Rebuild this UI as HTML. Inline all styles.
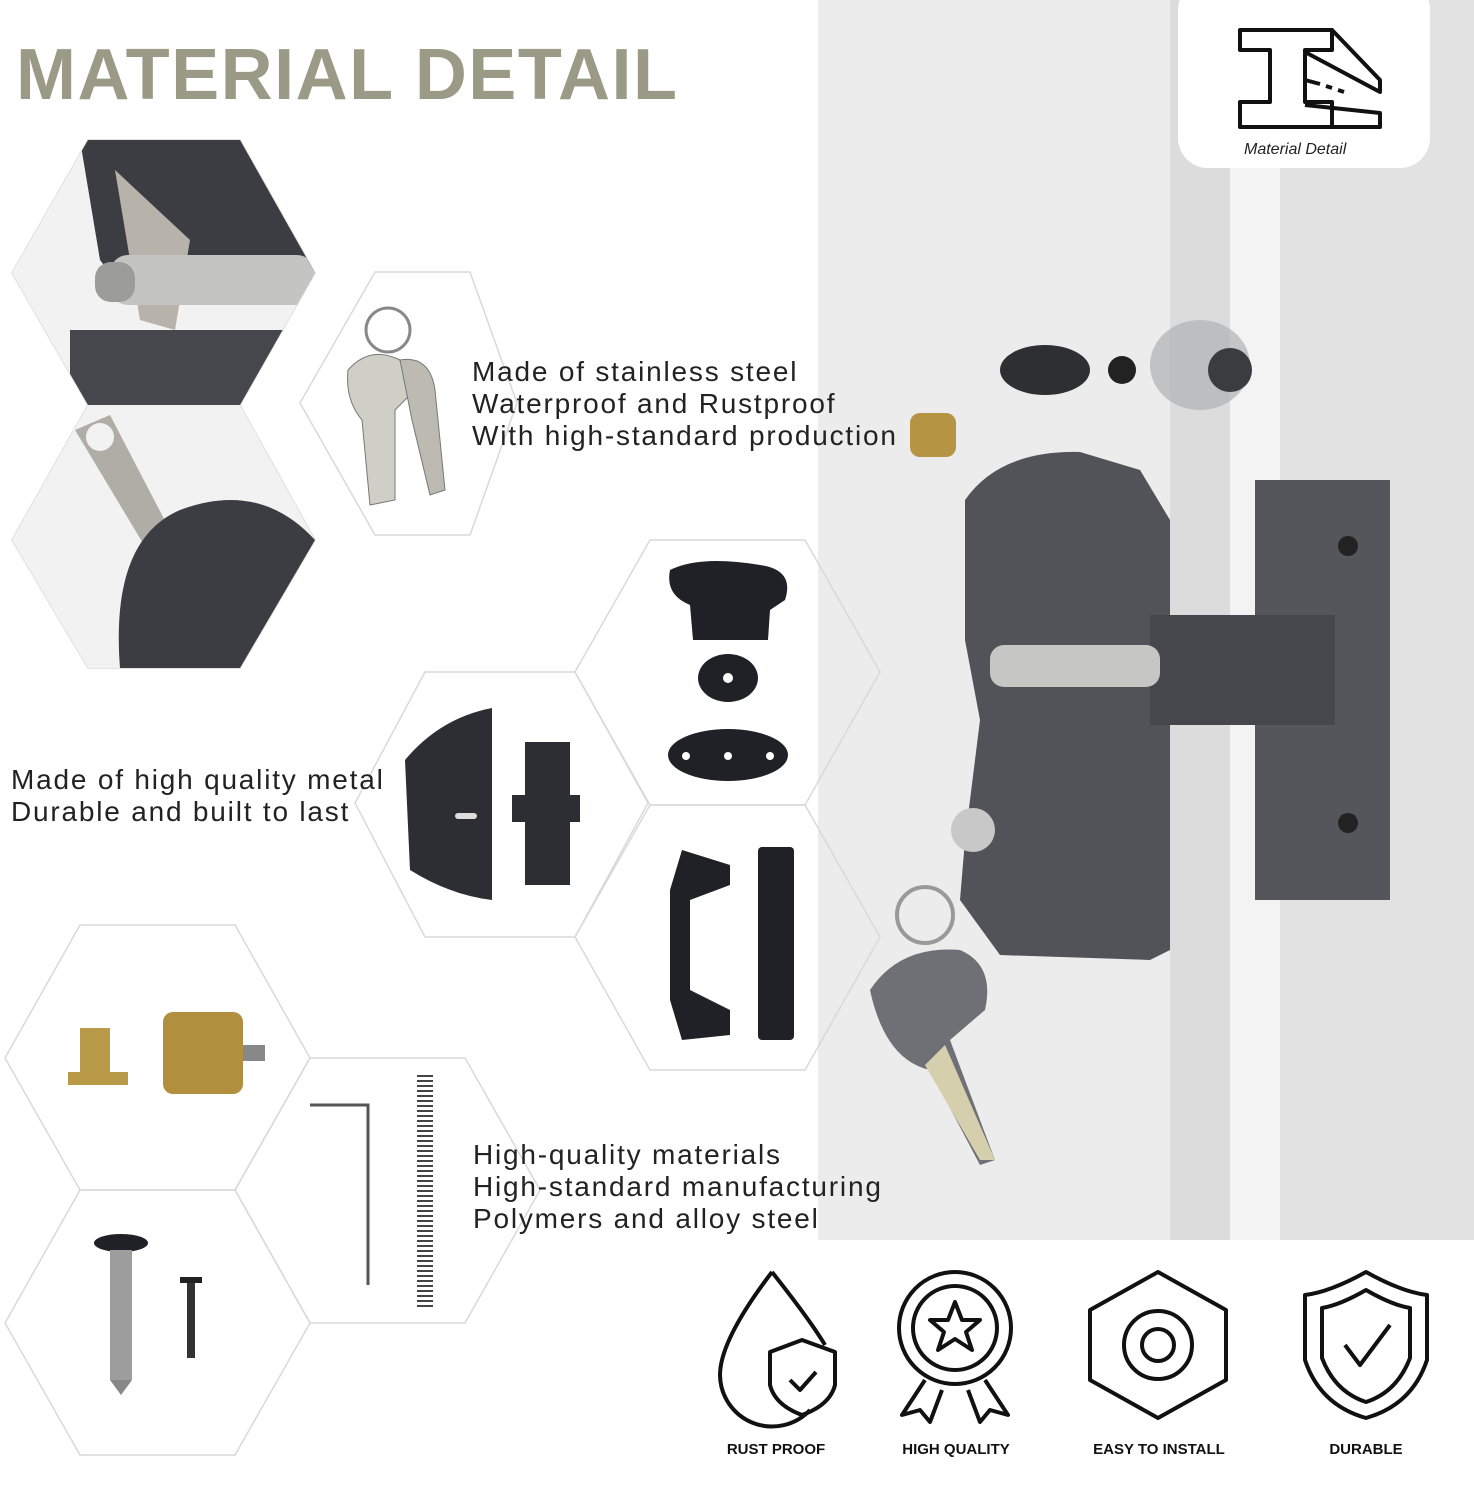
<!DOCTYPE html>
<html><head><meta charset="utf-8"><style>
html,body{margin:0;padding:0}
body{width:1474px;height:1500px;position:relative;background:#fff;overflow:hidden;font-family:"Liberation Sans",sans-serif}
svg{position:absolute;left:0;top:0}
</style></head><body>
<svg width="1474" height="1500" viewBox="0 0 1474 1500" xmlns="http://www.w3.org/2000/svg">
<defs>
<clipPath id="c1"><polygon points="12,273 88,140 240,140 315,273 240,405 88,405"/></clipPath>
<clipPath id="c3"><polygon points="12,540 88,405 240,405 315,540 240,668 88,668"/></clipPath>
</defs>
<rect x="818" y="0" width="656" height="1500" fill="#ececec"/>
<rect x="1170" y="0" width="60" height="1500" fill="#dcdcdc"/>
<rect x="1230" y="0" width="50" height="1500" fill="#f3f3f3"/>
<rect x="1280" y="0" width="194" height="1500" fill="#e2e2e2"/>
<rect x="700" y="1240" width="774" height="260" fill="#fff"/>
<rect x="1178" y="-20" width="252" height="188" rx="30" fill="#fff"/>
<g fill="none" stroke="#111" stroke-width="4" stroke-linejoin="round">
<path d="M1240,30 H1332 V50 H1305 V102 H1332 V127 H1240 V102 H1270 V50 H1240 Z"/>
<path d="M1332,30 L1380,80 V92 L1305,52"/>
<path d="M1332,112 V127 H1380 V113 L1305,105"/>
<path d="M1305,80 L1320,84 M1326,86 L1332,88 M1338,90 L1344,92"/>
</g>
<text x="1244" y="154" font-family="Liberation Sans,sans-serif" font-style="italic" font-size="16" fill="#222">Material Detail</text>
<text x="16" y="99" font-size="72" font-weight="bold" fill="#9a9a86" letter-spacing="1.5">MATERIAL DETAIL</text>
<g fill="none" stroke="#d9d9d9" stroke-width="1.5">
<polygon points="300,403 375,272 470,272 517,403 470,535 375,535"/>
<polygon points="355,803 425,672 575,672 648,803 575,937 425,937"/>
<polygon points="575,672 650,540 805,540 880,672 805,805 650,805"/>
<polygon points="575,937 650,805 805,805 880,937 805,1070 650,1070"/>
<polygon points="5,1058 80,925 235,925 310,1058 235,1190 80,1190"/>
<polygon points="235,1190 310,1058 465,1058 540,1190 465,1323 310,1323"/>
<polygon points="5,1323 80,1190 235,1190 310,1323 235,1455 80,1455"/>
<polygon points="12,273 88,140 240,140 315,273 240,405 88,405"/>
<polygon points="12,540 88,405 240,405 315,540 240,668 88,668"/>
</g>
<g clip-path="url(#c1)">
<rect x="0" y="130" width="320" height="280" fill="#f2f2f2"/>
<path d="M80,140 H250 L315,273 L260,300 H130 L100,260 Z" fill="#3b3d42"/>
<path d="M70,330 H320 V405 H70 Z" fill="#45474c"/>
<path d="M115,170 L190,240 L175,330 L140,320 Z" fill="#b7b3ab"/>
<rect x="110" y="255" width="205" height="50" rx="18" fill="#c4c4c2"/>
<rect x="95" y="262" width="40" height="40" rx="16" fill="#9c9c9a"/>
</g>
<g clip-path="url(#c3)">
<rect x="0" y="400" width="320" height="270" fill="#f2f2f2"/>
<path d="M75,430 L110,415 L175,540 L150,555 Z" fill="#b0aca6"/>
<circle cx="100" cy="437" r="14" fill="#f2f2f2"/>
<path d="M120,668 Q110,540 180,510 Q260,480 315,540 V668 Z" fill="#3b3d42"/>
</g>
<g>
<circle cx="388" cy="330" r="22" fill="none" stroke="#888" stroke-width="3"/>
<path d="M348,370 Q370,345 400,360 L410,395 L395,410 L395,500 L370,505 L362,420 Q345,400 348,370Z" fill="#cfcfc8" stroke="#777"/>
<path d="M400,360 Q430,355 435,390 L445,490 L430,495 L412,420 Z" fill="#bdbab2" stroke="#777"/>
</g>
<path d="M405,760 Q440,718 492,708 V900 Q450,895 410,870 Z" fill="#2c2e33"/>
<rect x="455" y="813" width="22" height="6" rx="3" fill="#ddd"/>
<path d="M525,742 H570 V795 H580 V822 H570 V885 H525 V822 H512 V795 H525 Z" fill="#2c2e33"/>
<path d="M670,570 Q700,555 760,565 Q795,570 785,600 L770,610 L768,640 H693 L690,605 Q665,595 670,570Z" fill="#1f2126"/>
<ellipse cx="728" cy="678" rx="30" ry="24" fill="#1f2126"/><circle cx="728" cy="678" r="5" fill="#fff"/>
<ellipse cx="728" cy="755" rx="60" ry="26" fill="#1f2126"/><circle cx="728" cy="756" r="4" fill="#fff"/><circle cx="686" cy="756" r="4" fill="#fff"/><circle cx="770" cy="756" r="4" fill="#fff"/>
<path d="M682,850 L730,865 V885 L690,900 V990 L730,1010 V1035 L682,1040 L670,1000 V890 Z" fill="#1f2126"/>
<rect x="758" y="847" width="36" height="193" rx="4" fill="#1f2126"/>
<path d="M80,1028 H110 V1072 H128 V1085 H68 V1072 H80 Z" fill="#b89a48"/>
<rect x="163" y="1012" width="80" height="82" rx="10" fill="#b08f3e"/><rect x="243" y="1045" width="22" height="16" fill="#888"/>
<path d="M310,1105 H368 V1285" fill="none" stroke="#555" stroke-width="3"/>
<path d="M425,1075 V1310" stroke="#444" stroke-width="16" stroke-dasharray="2 3" fill="none"/>
<ellipse cx="121" cy="1243" rx="27" ry="9" fill="#1f2126"/>
<rect x="110" y="1250" width="22" height="130" fill="#9d9d9d"/><path d="M110,1380 L121,1395 L132,1380Z" fill="#888"/>
<rect x="180" y="1277" width="22" height="6" fill="#222"/><rect x="187" y="1283" width="8" height="75" fill="#333"/>
<g font-family="Liberation Sans,sans-serif" font-size="28" fill="#222" letter-spacing="1.8">
<text x="472" y="381">Made of stainless steel</text>
<text x="472" y="413">Waterproof and Rustproof</text>
<text x="472" y="445">With high-standard production</text>
<text x="11" y="789">Made of high quality metal</text>
<text x="11" y="821">Durable and built to last</text>
<text x="473" y="1164">High-quality materials</text>
<text x="473" y="1196">High-standard manufacturing</text>
<text x="473" y="1228">Polymers and alloy steel</text>
</g>
<ellipse cx="1045" cy="370" rx="45" ry="25" fill="#2d2f33"/>
<ellipse cx="1200" cy="365" rx="50" ry="45" fill="#aeb0b3" opacity="0.7"/>
<circle cx="1230" cy="370" r="22" fill="#3a3c40"/>
<circle cx="1122" cy="370" r="14" fill="#222"/>
<rect x="910" y="413" width="46" height="44" rx="10" fill="#b59444"/>
<path d="M965,500 Q1000,450 1080,452 L1140,470 L1170,520 L1170,950 L1150,960 L1000,955 L960,900 L965,840 L980,720 L965,640 Z" fill="#515358"/>
<path d="M1255,480 H1390 V900 H1255 Z" fill="#54565b"/>
<rect x="1150" y="615" width="185" height="110" fill="#45474c"/>
<rect x="990" y="645" width="170" height="42" rx="14" fill="#c6c6c4"/>
<circle cx="1348" cy="546" r="10" fill="#222"/><circle cx="1348" cy="823" r="10" fill="#222"/>
<circle cx="973" cy="830" r="22" fill="#c8c8c8"/>
<circle cx="925" cy="915" r="28" fill="none" stroke="#999" stroke-width="4"/>
<path d="M870,990 Q900,945 960,950 Q995,965 985,1010 L950,1040 L995,1160 L980,1165 L930,1070 Q885,1060 870,990Z" fill="#6e7075"/>
<path d="M925,1065 L980,1160 L995,1160 L945,1045 Z" fill="#d6cfae"/>
<g fill="none" stroke="#111" stroke-width="4" stroke-linejoin="round">
<path d="M772,1272 Q720,1340 720,1375 A52,52 0 0 0 810,1410"/>
<path d="M772,1272 Q810,1320 825,1345"/>
<path d="M802,1340 L835,1352 V1385 Q830,1405 802,1415 Q775,1405 770,1385 V1352 Z"/>
<path d="M790,1380 L800,1390 L816,1372"/>
<circle cx="955" cy="1328" r="56"/><circle cx="955" cy="1328" r="42"/>
<path d="M955,1302 L962,1320 L980,1320 L966,1332 L972,1350 L955,1339 L938,1350 L944,1332 L930,1320 L948,1320 Z"/>
<path d="M925,1380 L902,1415 L920,1410 L930,1422 L942,1390 M985,1380 L1008,1415 L990,1410 L980,1422 L968,1390"/>
<polygon points="1158,1272 1226,1310 1226,1380 1158,1418 1090,1380 1090,1310"/>
<circle cx="1158" cy="1345" r="34"/><circle cx="1158" cy="1345" r="16"/>
<path d="M1366,1272 Q1330,1292 1305,1295 V1360 Q1320,1405 1366,1418 Q1412,1405 1427,1360 V1295 Q1402,1292 1366,1272Z"/>
<path d="M1366,1290 Q1340,1305 1322,1308 V1358 Q1335,1392 1366,1402 Q1397,1392 1410,1358 V1308 Q1392,1305 1366,1290Z"/>
<path d="M1345,1345 L1360,1365 L1390,1325"/>
</g>
<g font-family="Liberation Sans,sans-serif" font-size="15" font-weight="bold" fill="#111" text-anchor="middle">
<text x="776" y="1454">RUST PROOF</text>
<text x="956" y="1454">HIGH QUALITY</text>
<text x="1159" y="1454">EASY TO INSTALL</text>
<text x="1366" y="1454">DURABLE</text>
</g>
</svg>
</body></html>
